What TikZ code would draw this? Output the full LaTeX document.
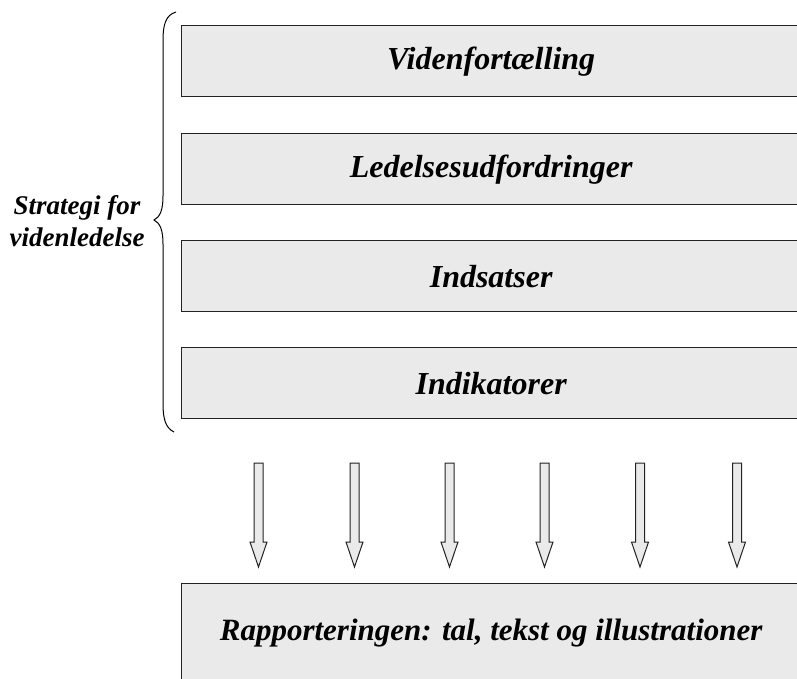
\documentclass[tikz,border=0pt]{standalone}
\usepackage{fontspec}
\setmainfont{Liberation Serif}
\definecolor{boxfill}{HTML}{EAEAEA}
\definecolor{boxline}{HTML}{222222}
\tikzset{
  layerbox/.style={draw=boxline, fill=boxfill, line width=1.3pt, anchor=north west,
    minimum width=619pt, inner sep=0pt,
    font=\fontsize{32}{36}\selectfont\bfseries\itshape},
  blockarrow/.style={draw=boxline, fill=boxfill, line width=1pt, line join=miter},
  bracelabel/.style={font=\fontsize{27}{32}\selectfont\bfseries\itshape, align=center},
  bracepath/.style={draw=black, line width=1pt}
}
\begin{document}
\begin{tikzpicture}[x=1pt,y=-1pt]
\clip (0,0) rectangle (797,679);
\fill[white] (0,0) rectangle (797,679);
\node[layerbox, minimum height=71pt] (b1) at (181,25) {Videnfortælling};
\node[layerbox, minimum height=71pt] (b2) at (181,133) {Ledelsesudfordringer};
\node[layerbox, minimum height=71pt] (b3) at (181,240) {Indsatser};
\node[layerbox, minimum height=71pt] (b4) at (181,347) {Indikatorer};
\node[layerbox, minimum height=98pt, font=\fontsize{31}{36}\selectfont\bfseries\itshape] (b5) at (181,583) {Rapporteringen: tal, tekst og illustrationer};
\foreach \cx in {258.5,354.5,449.5,544.5,640,737} {
  \draw[blockarrow] (\cx-4.5,463) -- (\cx+4.5,463) -- (\cx+4.5,542) -- (\cx+8.5,542)
    -- (\cx,567) -- (\cx-8.5,542) -- (\cx-4.5,542) -- cycle;
}
\draw[bracepath] (176,12) .. controls (166,15) and (163,24) .. (163,40) -- (163,196)
  .. controls (163,210) and (160,217) .. (154,220)
  .. controls (160,223) and (163,230) .. (163,244) -- (163,404)
  .. controls (163,420) and (166,428) .. (174,432);
\node[bracelabel] (lbl) at (77,221) {Strategi for\\videnledelse};
\end{tikzpicture}
\end{document}
